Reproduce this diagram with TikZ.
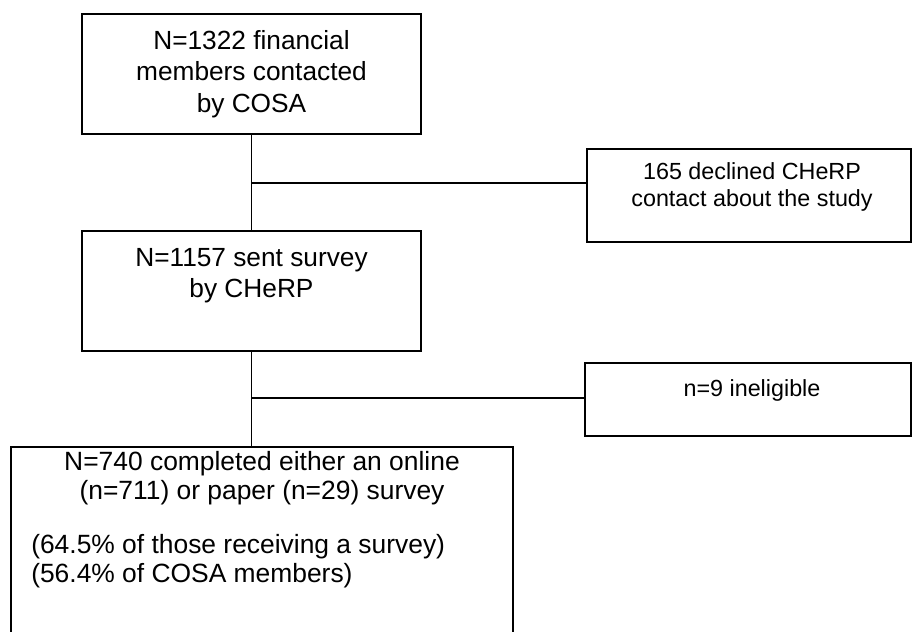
\documentclass[tikz,border=0pt]{standalone}
\usepackage{fontspec}
\setmainfont{Liberation Sans}
\usepackage{tikz}
\tikzset{flowbox/.style={draw, line width=1.1pt, inner sep=0pt},
	flowtext/.style={inner sep=0pt, align=center, font=\fontsize{17.5pt}{20.25pt}\selectfont},
	bigtext/.style={flowtext, font=\fontsize{19.8pt}{21.75pt}\selectfont},
	flowline/.style={line width=1.1pt}}

\begin{document}
\begin{tikzpicture}[x=0.75pt, y=-0.75pt]
\useasboundingbox (0,0) rectangle (912,631);
\fill[white] (0,0) rectangle (912,631);

\node[flowbox, minimum width=254.25pt, minimum height=90pt] (contacted) at (251.5,74) {};
\node[flowbox, minimum width=254.25pt, minimum height=90pt] (sent) at (251.5,291) {};
\node[flowbox, minimum width=243pt, minimum height=69.75pt] (declined) at (749,195.5) {};
\node[flowbox, minimum width=244.5pt, minimum height=54.75pt] (ineligible) at (748,399.5) {};
\node[flowbox, minimum width=376.5pt, minimum height=159.75pt] (completed) at (262,553.5) {};

\node[bigtext, font=\fontsize{19.7pt}{23.7pt}\selectfont] (contactedtext) at (251.5,74)
	{N=1322 financial\\members contacted\\by COSA};
\node[bigtext, font=\fontsize{19.7pt}{23.25pt}\selectfont] (senttext) at (251.5,276)
	{N=1157 sent survey\\by CHeRP};
\node[flowtext] (declinedtext) at (752,186.5)
	{165 declined CHeRP\\contact about the study};
\node[flowtext] (ineligibletext) at (752,390) {n=9 ineligible};
\node[bigtext] (completedtext) at (262,478)
	{N=740 completed either an online\\(n=711) or paper (n=29) survey};
\node[bigtext, align=left, anchor=west] (sharetext) at (31,561.5)
	{(64.5\% of those receiving a survey)\\(56.4\% of COSA members)};

\coordinate (split1) at (251.5,183);
\coordinate (split2) at (251.5,398);
\draw[flowline] (contacted.south) -- (sent.north);
\draw[flowline] (split1) -- (split1 -| declined.west);
\draw[flowline] (sent.south) -- (completed.north -| sent.south);
\draw[flowline] (split2) -- (split2 -| ineligible.west);
\end{tikzpicture}
\end{document}
